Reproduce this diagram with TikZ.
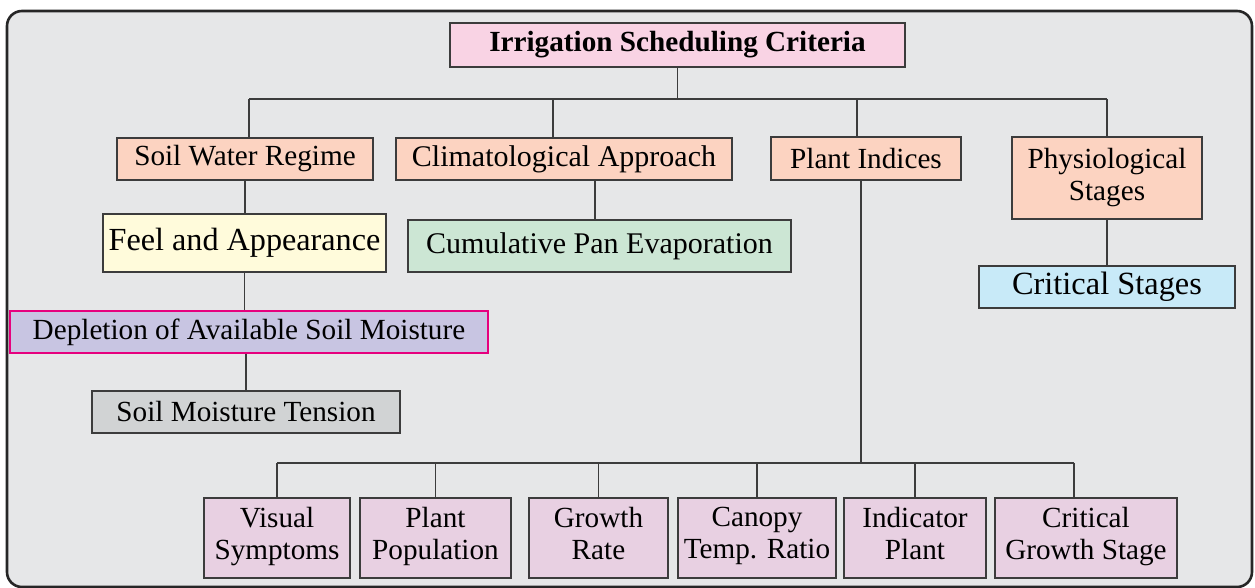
\documentclass[tikz,border=0pt]{standalone}
\usepackage{fontspec}
\setmainfont{Liberation Serif}
\definecolor{framegray}{HTML}{E6E7E8}
\definecolor{titlepink}{HTML}{F9D3E4}
\definecolor{peach}{HTML}{FCD3C1}
\definecolor{paleyellow}{HTML}{FFFBDB}
\definecolor{palegreen}{HTML}{CCE6D4}
\definecolor{paleblue}{HTML}{C8EAF8}
\definecolor{lavender}{HTML}{C8C5E2}
\definecolor{boxgray}{HTML}{D1D3D4}
\definecolor{lilac}{HTML}{E8D0E2}
\definecolor{linegray}{HTML}{3C3C3C}
\definecolor{deplborder}{HTML}{E6007E}

\begin{document}
\begin{tikzpicture}[
      x=0.5pt,y=-0.5pt,
      font=\fontsize{14.6}{16}\selectfont,
      box/.style={draw=linegray,line width=0.6pt,inner sep=0pt,align=center},
      leaf/.style={box,fill=lilac,minimum height=40pt,
        execute at begin node=\strut,execute at end node=\strut},
      link/.style={draw=linegray,line width=0.7pt}
      ]

	      \useasboundingbox (0,0) rectangle (1255,588);
	      \draw[draw=black!85,line width=1.3pt,fill=framegray,rounded corners=7.5pt] (7,11) rectangle (1252,587);

	      % top
	      \node[box,fill=titlepink,minimum width=227.5pt,minimum height=22pt,font=\fontsize{14.6}{16}\selectfont\bfseries] (title) at (677.5,45) {Irrigation Scheduling Criteria};

	      % second row
	      \node[box,fill=peach,minimum width=128pt,minimum height=21pt] (soil) at (245,159) {Soil Water Regime};
	      \node[box,fill=peach,minimum width=168pt,minimum height=21pt,font=\fontsize{15}{16}\selectfont] (clim) at (564,159) {Climatological Approach};
	      \node[box,fill=peach,minimum width=95pt,minimum height=21.5pt] (plant) at (866,158.5) {Plant Indices};
	      \node[box,fill=peach,minimum width=95pt,minimum height=41pt] (phys) at (1107,178) {Physiological\\Stages};

	      % soil water branch
	      \node[box,fill=paleyellow,minimum width=141.5pt,minimum height=29pt,font=\fontsize{16.1}{17}\selectfont] (feel) at (244.5,243) {Feel and Appearance};
	      \node[box,draw=deplborder,fill=lavender,minimum width=239pt,minimum height=21pt] (depl) at (249,332) {Depletion of Available Soil Moisture};
	      \node[box,fill=boxgray,minimum width=154pt,minimum height=21pt] (tens) at (246,412) {Soil Moisture Tension};

	      % climatological and physiological branches
	      \node[box,fill=palegreen,minimum width=191.5pt,minimum height=26pt,font=\fontsize{15}{16}\selectfont] (pan) at (599.5,246) {Cumulative Pan Evaporation};
	      \node[box,fill=paleblue,minimum width=128pt,minimum height=21pt,font=\fontsize{16.2}{17}\selectfont] (crit) at (1107,287) {Critical Stages};

	      % plant indices
	      \node[leaf,minimum width=73pt] (visual) at (277,538) {Visual\\Symptoms};
	      \node[leaf,minimum width=75.5pt] (popul) at (435.5,538) {Plant\\Population};
	      \node[leaf,minimum width=69.5pt] (growth) at (598.5,538) {Growth\\Rate};
	      \node[leaf,minimum width=79pt] (canopy) at (757,538) {Canopy\\Temp. Ratio};
	      \node[leaf,minimum width=71pt] (indic) at (915,538) {Indicator\\Plant};
	      \node[leaf,minimum width=91pt] (cgs) at (1086,538) {Critical\\Growth Stage};

	      % connectors
	      \coordinate (busL) at (249,99);
	      \coordinate (busR) at (1107,99);
	      \draw[link] (title.south) -- (title.south |- busL);
	      \draw[link] (busL) -- (busR);
	      \draw[link] (busL) -- (busL |- soil.north);
	      \draw[link] (clim.north -| 553,0) -- (553,99);
	      \draw[link] (plant.north -| 857,0) -- (857,99);
	      \draw[link] (busR) -- (busR |- phys.north);

	      \draw[link] (soil.south) -- (soil.south |- feel.north);
	      \draw[link] (feel.south) -- (feel.south |- depl.north);
	      \draw[link] (depl.south -| tens.north) -- (tens.north);
	      \draw[link] (clim.south -| 595,0) -- (pan.north -| 595,0);
	      \draw[link] (phys.south) -- (crit.north);

	      \coordinate (leafL) at (277,463);
	      \coordinate (leafR) at (1074,463);
	      \draw[link] (plant.south -| 861,0) -- (861,463);
	      \draw[link] (leafL) -- (leafR);
	      \foreach \n in {visual,popul,growth,canopy,indic}
	        \draw[link] (leafL -| \n.north) -- (\n.north);
	      \draw[link] (leafR) -- (leafR |- cgs.north);

\end{tikzpicture}
\end{document}
